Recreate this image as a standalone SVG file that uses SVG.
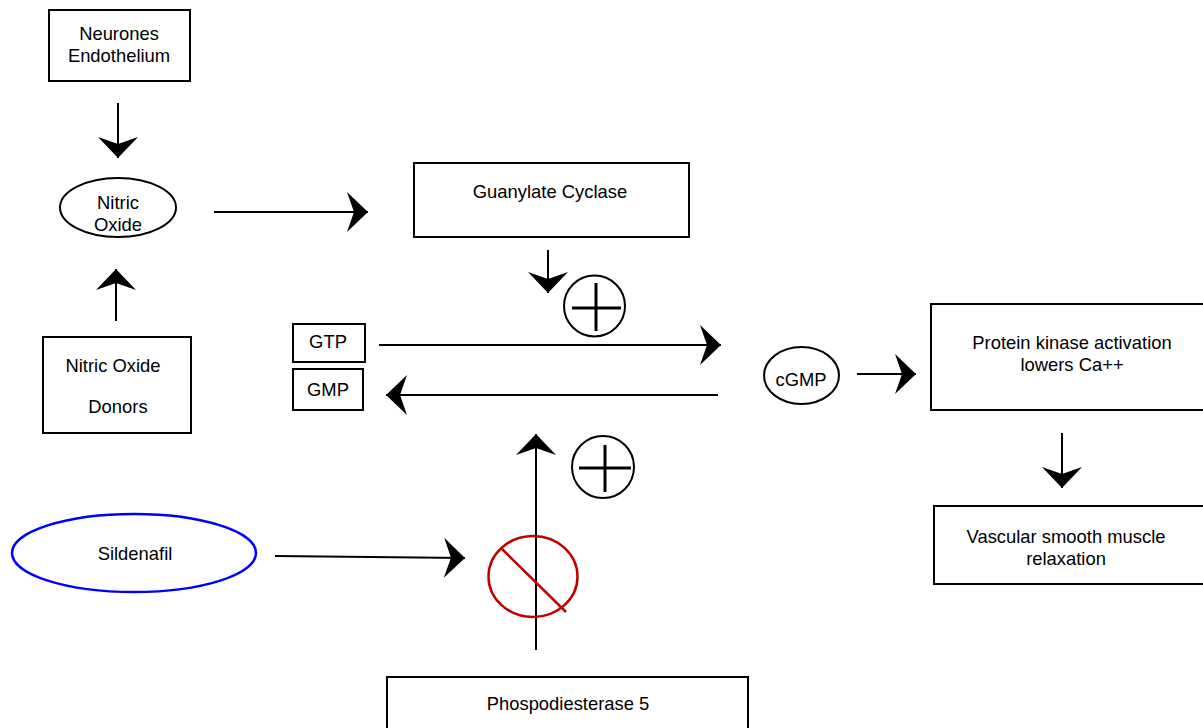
<svg xmlns="http://www.w3.org/2000/svg" width="1203" height="728" viewBox="0 0 1203 728">
<style>
.box{fill:#fff;stroke:#000;stroke-width:2}
.ell{fill:#fff;stroke:#000;stroke-width:2}
.t{font-family:"Liberation Sans",Arial,sans-serif;font-size:18.4px;fill:#000;text-anchor:middle}
.c{fill:none;stroke:#000;stroke-width:2}
.plus{fill:#fff;stroke:#000;stroke-width:2}
.pl{stroke:#000;stroke-width:3}
</style>
<defs>
<marker id="ah" viewBox="-22 -21 23 42" refX="0" refY="0" markerWidth="23" markerHeight="42" markerUnits="userSpaceOnUse" orient="auto">
<path d="M0,0 L-21,-20 L-14,0 L-21,20 Z" fill="#000"/>
</marker>
</defs>
<rect width="1203" height="728" fill="#fff"/>

<g id="neurones">
<rect class="box" x="49" y="10" width="141" height="71"/>
<text class="t" x="119" y="40">Neurones</text>
<text class="t" x="119" y="62">Endothelium</text>
</g>
<g id="nitric-oxide">
<ellipse class="ell" cx="118" cy="207.5" rx="58" ry="29.5"/>
<text class="t" x="118" y="209">Nitric</text>
<text class="t" x="118" y="231">Oxide</text>
</g>
<g id="no-donors">
<rect class="box" x="43" y="337" width="148" height="96"/>
<text class="t" x="113" y="372">Nitric Oxide</text>
<text class="t" x="118" y="413">Donors</text>
</g>
<g id="guanylate">
<rect class="box" x="414" y="163" width="275" height="74"/>
<text class="t" x="550" y="198">Guanylate Cyclase</text>
</g>
<g id="plus1">
<circle class="plus" cx="594.5" cy="306" r="30.5"/>
<line class="pl" x1="572" y1="308" x2="621" y2="308"/>
<line class="pl" x1="596" y1="283" x2="596" y2="331"/>
</g>
<g id="gtp">
<rect class="box" x="293" y="324" width="72" height="38"/>
<text class="t" x="328" y="348">GTP</text>
</g>
<g id="gmp">
<rect class="box" x="293" y="369" width="70" height="41"/>
<text class="t" x="328" y="396">GMP</text>
</g>
<g id="cgmp">
<ellipse class="ell" cx="801.5" cy="375.5" rx="37.5" ry="28.5"/>
<text class="t" x="801" y="386">cGMP</text>
</g>
<g id="protein-kinase">
<rect class="box" x="931" y="304" width="290" height="106"/>
<text class="t" x="1072" y="349">Protein kinase activation</text>
<text class="t" x="1072" y="371">lowers Ca++</text>
</g>
<g id="vascular">
<rect class="box" x="934" y="506" width="290" height="78"/>
<text class="t" x="1066" y="543">Vascular smooth muscle</text>
<text class="t" x="1066" y="565">relaxation</text>
</g>
<g id="plus2">
<circle class="plus" cx="603" cy="467" r="31"/>
<line class="pl" x1="579" y1="468" x2="631" y2="468"/>
<line class="pl" x1="605" y1="445" x2="605" y2="492"/>
</g>
<g id="sildenafil">
<ellipse cx="134" cy="553" rx="122" ry="39" fill="#fff" stroke="#0000ff" stroke-width="2.5"/>
<text class="t" x="135" y="560">Sildenafil</text>
</g>
<g id="phosphodiesterase">
<rect class="box" x="387" y="677" width="361" height="70"/>
<text class="t" x="568" y="710">Phospodiesterase 5</text>
</g>

<g id="connectors">
<line class="c" x1="118" y1="103" x2="118" y2="158" marker-end="url(#ah)"/>
<line class="c" x1="116" y1="321" x2="116" y2="269" marker-end="url(#ah)"/>
<line class="c" x1="214" y1="212" x2="368" y2="212" marker-end="url(#ah)"/>
<line class="c" x1="548" y1="250" x2="548" y2="293" marker-end="url(#ah)"/>
<line class="c" x1="379" y1="345" x2="721" y2="345" marker-end="url(#ah)"/>
<line class="c" x1="718" y1="395" x2="386" y2="395" marker-end="url(#ah)"/>
<line class="c" x1="857" y1="374" x2="916" y2="374" marker-end="url(#ah)"/>
<line class="c" x1="1062" y1="433" x2="1062" y2="488" marker-end="url(#ah)"/>
<line class="c" x1="275" y1="556" x2="465" y2="558" marker-end="url(#ah)"/>
<line class="c" x1="536" y1="650" x2="536" y2="434" marker-end="url(#ah)"/>
</g>

<g id="inhibition">
<ellipse cx="533" cy="576.5" rx="44.5" ry="40.5" fill="none" stroke="#c00000" stroke-width="2.5"/>
<line x1="501" y1="548" x2="566" y2="612" stroke="#c00000" stroke-width="2.5"/>
</g>
</svg>
